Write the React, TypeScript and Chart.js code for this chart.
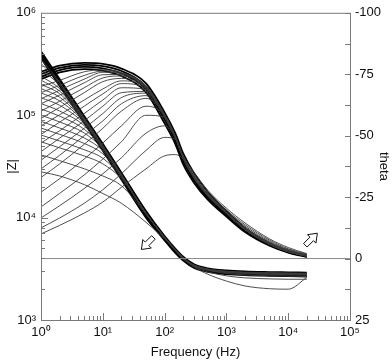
import React, { useEffect, useRef } from 'react';
import { Chart, registerables } from 'chart.js';

Chart.register(...registerables);

// Frequencies (Hz) at which every spectrum is sampled
const FREQ = [1, 2, 5, 10, 20, 50, 100, 150, 200, 300, 500, 1000, 2000, 5000, 10000, 20000];

// Phase (theta, degrees) – tight bundle of intact spectra
const phaseB1 = [-76, -78.5, -79.6, -79.2, -77.3, -71.3, -59.5, -50.8, -42.8, -34.7, -27.1, -19.3, -12.4, -6.2, -3.1, -1.2];
const phaseB2 = [-75, -77.6, -78.8, -78.3, -76.3, -70, -58, -49.3, -41, -33, -25.8, -18.5, -11.8, -5.8, -2.8, -1];
const phaseB3 = [-74, -76.7, -78, -77.4, -75.3, -68.8, -56.5, -47.8, -39.5, -31.8, -24.8, -17.8, -11.3, -5.5, -2.6, -0.8];
const phaseB4 = [-73, -75.8, -77.1, -76.5, -74.3, -67.6, -55, -46.5, -38.3, -30.8, -24, -17.1, -10.8, -5.2, -2.4, -0.6];

// Phase – individual (degraded) spectra
const phase1 = [-10, -13.5, -18.5, -23, -29, -36.5, -41.8, -42.3, -40.5, -35, -27.8, -20.5, -14.5, -8, -4.5, -2];
const phase2 = [-12.5, -16.5, -22.5, -28, -34.5, -44, -49.3, -48.5, -41.8, -34.3, -27.1, -19.8, -13.8, -7.5, -4, -1.8];
const phase3 = [-16.5, -21.5, -28.5, -34.5, -41, -51, -54, -49.2, -41.2, -33.6, -26.5, -19.3, -13.2, -7, -3.7, -1.5];
const phase4 = [-21, -26.5, -34, -40.5, -47.5, -58.3, -57.5, -49.2, -41, -33.3, -26.1, -18.8, -12.6, -6.6, -3.4, -1.4];
const phase5 = [-27, -32.5, -40.5, -47, -54, -62, -58.3, -49.4, -41, -33.2, -26, -18.7, -12.3, -6.4, -3.2, -1.3];
const phase6 = [-33, -38.5, -46.5, -53, -60, -65.2, -58.5, -49.4, -41.1, -33.1, -25.9, -18.6, -12.1, -6.2, -3.1, -1.2];
const phase7 = [-40, -45.5, -53, -59, -65.5, -67.3, -58.4, -49.3, -41, -33, -25.8, -18.5, -12, -6.1, -3, -1.1];
const phase8 = [-47, -52, -59, -64.5, -69.5, -68.8, -58.3, -49.3, -41, -33, -25.8, -18.5, -11.9, -6, -2.9, -1.05];
const phase9 = [-54, -58.5, -64.5, -69, -72.3, -69.5, -58.2, -49.2, -41, -33, -25.8, -18.5, -11.8, -5.9, -2.85, -1];
const phase10 = [-60, -64, -69.5, -73.5, -74.3, -69.8, -58.2, -49.2, -41, -33, -25.8, -18.5, -11.8, -5.8, -2.8, -1];
const phase11 = [-65, -68.5, -73, -75.8, -75.3, -70, -58.4, -49.4, -41.1, -33.1, -25.9, -18.6, -11.9, -5.9, -2.85, -1.05];
const phase12 = [-70, -72.5, -76, -76.8, -75.6, -69.8, -57.8, -49, -40.8, -32.8, -25.6, -18.3, -11.7, -5.8, -2.75, -0.95];
const phase13 = [-57, -61.5, -67.5, -72, -73.3, -69.6, -58.1, -49.2, -41, -33, -25.8, -18.5, -11.8, -5.8, -2.8, -1];
const phase14 = [-63, -66.5, -71.5, -74.8, -74.9, -70.2, -58.5, -49.5, -41.2, -33.2, -25.9, -18.6, -11.9, -5.9, -2.9, -1.1];
const phase15 = [-50.5, -55.5, -62, -67, -71.2, -69.2, -58.1, -49.2, -41, -33, -25.8, -18.5, -11.8, -5.8, -2.8, -1];
const phase16 = [-43.5, -49, -56, -62, -67.5, -68, -58, -49.2, -41, -33, -25.8, -18.5, -11.8, -5.8, -2.8, -1];
const phase17 = [-36.5, -42, -50, -56, -63, -66.3, -58.2, -49.3, -41.1, -33.1, -25.9, -18.6, -11.9, -5.9, -2.85, -1.05];
const phase18 = [-67.5, -70.5, -74.5, -76.3, -75.6, -70.2, -58.5, -49.5, -41.2, -33.2, -25.9, -18.6, -11.9, -5.9, -2.85, -1.05];

// |Z| (ohm) – tight bundle of intact spectra
const zB1 = [4.2e5, 2.26e5, 9.8e4, 5.25e4, 2.75e4, 1.16e4, 6.6e3, 4.95e3, 4.15e3, 3.5e3, 3.2e3, 3.05e3, 2.98e3, 2.94e3, 2.92e3, 2.9e3];
const zB2 = [4.0e5, 2.15e5, 9.3e4, 5.0e4, 2.6e4, 1.1e4, 6.4e3, 4.8e3, 4.0e3, 3.4e3, 3.1e3, 2.95e3, 2.88e3, 2.84e3, 2.82e3, 2.8e3];
const zB3 = [3.8e5, 2.04e5, 8.8e4, 4.75e4, 2.47e4, 1.05e4, 6.2e3, 4.65e3, 3.9e3, 3.3e3, 3.02e3, 2.88e3, 2.81e3, 2.77e3, 2.75e3, 2.73e3];
const zB4 = [3.6e5, 1.93e5, 8.4e4, 4.5e4, 2.35e4, 1.0e4, 6.0e3, 4.5e3, 3.8e3, 3.22e3, 2.95e3, 2.81e3, 2.74e3, 2.7e3, 2.68e3, 2.66e3];

// |Z| – individual (degraded) spectra
const z1 = [2.8e4, 2.55e4, 2.1e4, 1.72e4, 1.38e4, 9.0e3, 6.2e3, 4.9e3, 4.1e3, 3.3e3, 2.8e3, 2.4e3, 2.15e3, 2.02e3, 2.0e3, 2.6e3];
const z2 = [4.1e4, 3.6e4, 3.0e4, 2.55e4, 2.05e4, 1.08e4, 6.3e3, 4.75e3, 3.95e3, 3.3e3, 2.95e3, 2.7e3, 2.58e3, 2.52e3, 2.5e3, 2.5e3];
const z3 = [5.5e4, 4.8e4, 4.0e4, 3.35e4, 2.4e4, 1.1e4, 6.35e3, 4.8e3, 4.0e3, 3.35e3, 3.05e3, 2.85e3, 2.75e3, 2.7e3, 2.68e3, 2.66e3];
const z4 = [7.5e4, 6.5e4, 5.3e4, 4.2e4, 2.55e4, 1.1e4, 6.4e3, 4.8e3, 4.0e3, 3.4e3, 3.1e3, 2.93e3, 2.85e3, 2.8e3, 2.78e3, 2.76e3];
const z5 = [1.0e5, 8.6e4, 6.7e4, 4.7e4, 2.6e4, 1.1e4, 6.4e3, 4.8e3, 4.0e3, 3.4e3, 3.12e3, 2.97e3, 2.9e3, 2.86e3, 2.84e3, 2.82e3];
const z6 = [1.3e5, 1.1e5, 7.9e4, 4.85e4, 2.6e4, 1.1e4, 6.45e3, 4.85e3, 4.05e3, 3.45e3, 3.15e3, 3.0e3, 2.93e3, 2.9e3, 2.88e3, 2.86e3];
const z7 = [1.65e5, 1.38e5, 8.6e4, 4.9e4, 2.6e4, 1.1e4, 6.4e3, 4.8e3, 4.0e3, 3.4e3, 3.1e3, 2.96e3, 2.9e3, 2.86e3, 2.84e3, 2.82e3];
const z8 = [2.0e5, 1.62e5, 8.9e4, 4.95e4, 2.6e4, 1.1e4, 6.4e3, 4.8e3, 4.0e3, 3.4e3, 3.1e3, 2.95e3, 2.88e3, 2.85e3, 2.83e3, 2.81e3];
const z9 = [2.4e5, 1.82e5, 9.1e4, 4.95e4, 2.6e4, 1.1e4, 6.4e3, 4.8e3, 4.0e3, 3.4e3, 3.1e3, 2.95e3, 2.88e3, 2.85e3, 2.83e3, 2.81e3];
const z10 = [2.8e5, 1.97e5, 9.2e4, 5.0e4, 2.62e4, 1.1e4, 6.45e3, 4.82e3, 4.02e3, 3.42e3, 3.12e3, 2.97e3, 2.9e3, 2.87e3, 2.85e3, 2.83e3];
const z11 = [3.2e5, 2.06e5, 9.25e4, 5.0e4, 2.62e4, 1.1e4, 6.4e3, 4.8e3, 4.0e3, 3.4e3, 3.1e3, 2.95e3, 2.88e3, 2.84e3, 2.82e3, 2.8e3];
const z12 = [3.5e5, 2.1e5, 9.3e4, 5.0e4, 2.6e4, 1.1e4, 6.4e3, 4.8e3, 4.0e3, 3.4e3, 3.1e3, 2.95e3, 2.88e3, 2.84e3, 2.82e3, 2.8e3];
const z13 = [6.4e4, 5.6e4, 4.6e4, 3.8e4, 2.5e4, 1.1e4, 6.4e3, 4.8e3, 4.0e3, 3.38e3, 3.08e3, 2.9e3, 2.83e3, 2.78e3, 2.76e3, 2.74e3];
const z14 = [8.7e4, 7.5e4, 6.0e4, 4.5e4, 2.58e4, 1.1e4, 6.4e3, 4.8e3, 4.0e3, 3.4e3, 3.1e3, 2.95e3, 2.87e3, 2.83e3, 2.81e3, 2.79e3];
const z15 = [1.15e5, 9.8e4, 7.3e4, 4.8e4, 2.6e4, 1.1e4, 6.4e3, 4.8e3, 4.0e3, 3.42e3, 3.13e3, 2.98e3, 2.91e3, 2.87e3, 2.85e3, 2.83e3];
const z16 = [1.48e5, 1.25e5, 8.3e4, 4.9e4, 2.6e4, 1.1e4, 6.4e3, 4.8e3, 4.0e3, 3.4e3, 3.1e3, 2.95e3, 2.88e3, 2.84e3, 2.82e3, 2.8e3];
const z17 = [1.82e5, 1.5e5, 8.8e4, 4.95e4, 2.6e4, 1.1e4, 6.4e3, 4.8e3, 4.0e3, 3.4e3, 3.1e3, 2.95e3, 2.88e3, 2.84e3, 2.82e3, 2.8e3];
const z18 = [2.2e5, 1.72e5, 9.0e4, 4.95e4, 2.6e4, 1.1e4, 6.4e3, 4.8e3, 4.0e3, 3.4e3, 3.1e3, 2.95e3, 2.88e3, 2.84e3, 2.82e3, 2.8e3];

// Reference line theta = 0
const zeroF = [1, 100000];
const zeroTheta = [0, 0];

// Axis ticks
const X_TICKS = [1, 10, 100, 1000, 10000, 100000];
const Z_TICKS = [1000, 10000, 100000, 1000000];
const THETA_TICKS = [-100, -75, -50, -25, 0, 25];
const SUP = ['\u2070', '\u00B9', '\u00B2', '\u00B3', '\u2074', '\u2075', '\u2076'];

// Annotation arrows (frequency, theta, pointing direction in degrees)
const ARROWS = [
  { f: 52, theta: -6, angle: 135 },
  { f: 24000, theta: -8, angle: -45 },
];

const FONT = '"Liberation Sans", Arial, Helvetica, sans-serif';
const AXIS_COLOR = '#7a7a7a';

const PHASE_BUNDLE = [phaseB1, phaseB2, phaseB3, phaseB4];
const PHASE_THIN = [phase1, phase2, phase3, phase4, phase5, phase6, phase7, phase8, phase9, phase10, phase11, phase12, phase13, phase14, phase15, phase16, phase17, phase18];
const Z_BUNDLE = [zB1, zB2, zB3, zB4];
const Z_THIN = [z1, z2, z3, z4, z5, z6, z7, z8, z9, z10, z11, z12, z13, z14, z15, z16, z17, z18];

function series(vals: number[], axis: string, width: number, color: string) {
  return {
    data: FREQ.map((f, i) => ({ x: f, y: vals[i] })),
    yAxisID: axis,
    borderColor: color,
    borderWidth: width,
    pointRadius: 0,
    cubicInterpolationMode: 'monotone' as const,
    fill: false,
  };
}

const decorPlugin = {
  id: 'decor',
  afterDatasetsDraw(chart: any) {
    const { ctx, chartArea: a, scales } = chart;
    const xs = scales.x, zs = scales.z, ts = scales.theta;
    ctx.save();
    ctx.strokeStyle = AXIS_COLOR;
    ctx.lineWidth = 1;
    ctx.strokeRect(a.left + 0.5, a.top + 0.5, a.right - a.left, a.bottom - a.top);
    ctx.beginPath();
    for (let d = 0; d <= 4; d++) {
      for (let k = 1; k <= 9; k++) {
        const v = k * Math.pow(10, d);
        const x = Math.round(xs.getPixelForValue(v)) + 0.5;
        const len = k === 1 ? 7 : 4;
        ctx.moveTo(x, a.bottom);
        ctx.lineTo(x, a.bottom - len);
      }
    }
    for (let d = 3; d <= 5; d++) {
      for (let k = 1; k <= 9; k++) {
        const v = k * Math.pow(10, d);
        const y = Math.round(zs.getPixelForValue(v)) + 0.5;
        const len = k === 1 ? 7 : 4;
        ctx.moveTo(a.left, y);
        ctx.lineTo(a.left + len, y);
      }
    }
    for (let v = -100; v <= 25; v += 12.5) {
      const y = Math.round(ts.getPixelForValue(v)) + 0.5;
      ctx.moveTo(a.right, y);
      ctx.lineTo(a.right - 5, y);
    }
    ctx.stroke();

    // hollow block arrows
    ctx.strokeStyle = '#111';
    ctx.fillStyle = '#fff';
    ctx.lineWidth = 1;
    for (const ar of ARROWS) {
      const cx = xs.getPixelForValue(ar.f);
      const cy = ts.getPixelForValue(ar.theta);
      const ang = (ar.angle * Math.PI) / 180;
      const pts = [[-9, -2.5], [0, -2.5], [0, -6], [8, 0], [0, 6], [0, 2.5], [-9, 2.5]];
      ctx.beginPath();
      pts.forEach(([u, v], i) => {
        const px = cx + u * Math.cos(ang) - v * Math.sin(ang);
        const py = cy + u * Math.sin(ang) + v * Math.cos(ang);
        if (i === 0) ctx.moveTo(px, py); else ctx.lineTo(px, py);
      });
      ctx.closePath();
      ctx.fill();
      ctx.stroke();
    }
    ctx.restore();
  },
};

export default function App() {
  const ref = useRef<HTMLCanvasElement>(null);
  useEffect(() => {
    const datasets: any[] = [];
    datasets.push({
      data: zeroF.map((f, i) => ({ x: f, y: zeroTheta[i] })),
      yAxisID: 'theta',
      borderColor: '#8a8a8a',
      borderWidth: 1,
      pointRadius: 0,
      fill: false,
    });
    PHASE_THIN.forEach((p) => datasets.push(series(p, 'theta', 0.9, '#3a3a3a')));
    Z_THIN.forEach((z) => datasets.push(series(z, 'z', 0.9, '#3a3a3a')));
    PHASE_BUNDLE.forEach((p) => datasets.push(series(p, 'theta', 1.8, '#000')));
    Z_BUNDLE.forEach((z) => datasets.push(series(z, 'z', 1.8, '#000')));

    const tickFont = { family: FONT, size: 13 };
    const titleFont = { family: FONT, size: 13 };
    const chart = new Chart(ref.current as HTMLCanvasElement, {
      type: 'line',
      data: { datasets },
      plugins: [decorPlugin],
      options: {
        responsive: false,
        animation: false,
        devicePixelRatio: 1,
        layout: { padding: { top: 10, left: 0, right: 0, bottom: 0 } },
        plugins: { legend: { display: false }, tooltip: { enabled: false } },
        scales: {
          x: {
            type: 'logarithmic',
            position: 'bottom',
            min: 1,
            max: 100000,
            afterBuildTicks: (s: any) => { s.ticks = X_TICKS.map((v) => ({ value: v })); },
            afterFit: (s: any) => { s.height = 43; },
            ticks: {
              autoSkip: false,
              maxRotation: 0,
              padding: 5,
              color: '#111',
              font: tickFont,
              callback: (v: any) => '10' + SUP[Math.round(Math.log10(Number(v)))],
            },
            grid: { display: false, drawTicks: false },
            border: { display: false },
            title: { display: true, text: 'Frequency (Hz)', color: '#111', font: titleFont, padding: { top: 0, bottom: 3 } },
          },
          z: {
            type: 'logarithmic',
            position: 'left',
            min: 1000,
            max: 1000000,
            afterBuildTicks: (s: any) => { s.ticks = Z_TICKS.map((v) => ({ value: v })); },
            afterFit: (s: any) => { s.width = 41; },
            ticks: {
              autoSkip: false,
              padding: 5,
              color: '#111',
              font: tickFont,
              callback: (v: any) => '10' + SUP[Math.round(Math.log10(Number(v)))],
            },
            grid: { display: false, drawTicks: false },
            border: { display: false },
            title: { display: true, text: '|Z|', color: '#111', font: titleFont, padding: { top: 5, bottom: 0 } },
          },
          theta: {
            type: 'linear',
            position: 'right',
            min: -100,
            max: 25,
            reverse: true,
            afterBuildTicks: (s: any) => { s.ticks = THETA_TICKS.map((v) => ({ value: v })); },
            afterFit: (s: any) => { s.width = 42; },
            ticks: {
              autoSkip: false,
              padding: 5,
              color: '#111',
              font: tickFont,
              callback: (v: any) => String(v),
            },
            grid: { display: false, drawTicks: false },
            border: { display: false },
            title: { display: true, text: 'theta', color: '#111', font: titleFont, padding: { top: 1, bottom: 0 } },
          },
        },
      } as any,
    });
    return () => chart.destroy();
  }, []);
  return (
    <div style={{ position: 'fixed', left: 0, top: 0, width: 392, height: 363, background: '#fff' }}>
      <canvas ref={ref} width={392} height={363} style={{ display: 'block', width: 392, height: 363 }} />
    </div>
  );
}
